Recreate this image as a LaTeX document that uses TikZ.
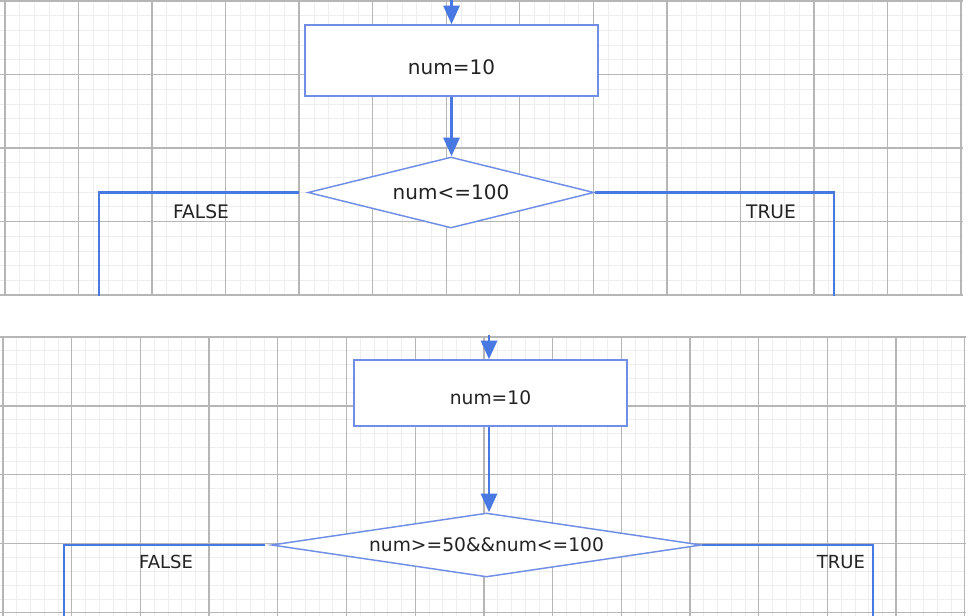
\documentclass[tikz,border=0pt]{standalone}
\usepackage{fontspec}
\setmainfont{DejaVu Sans}
\usetikzlibrary{shapes.geometric,arrows.meta,calc}
\definecolor{gridmajor}{RGB}{182,182,182}
\definecolor{gridminor}{RGB}{238,238,238}
\definecolor{flowblue}{RGB}{72,120,226}
\definecolor{shapeblue}{RGB}{112,142,230}
\definecolor{txtgray}{RGB}{35,35,35}
\tikzset{
  minorline/.style={gridminor, line width=0.5pt},
  majorline/.style={gridmajor, line width=1pt},
  procbox/.style={draw=shapeblue, fill=white, line width=1.1pt, rectangle, inner sep=0pt, text=txtgray},
  decbox/.style={draw=shapeblue, fill=white, line width=1.1pt, diamond, aspect=6, inner sep=0pt, text=txtgray},
  flowarrow/.style={flowblue, line width=2.2pt, -{Triangle[length=14pt,width=12pt]}},
  flowline/.style={flowblue, line width=1.9pt},
  lbl/.style={text=txtgray, inner sep=0pt},
}
\begin{document}
\begin{tikzpicture}[x=0.75pt,y=-0.75pt]
\useasboundingbox[fill=white] (0,0) rectangle (969,615);

% ---- top panel grid
\begin{scope}
\clip (0,0) rectangle (963,295.5);
\foreach \i in {-1,...,66} \draw[minorline] ({5+\i*14.708},0) -- ({5+\i*14.708},296);
\foreach \i in {0,...,21} \draw[minorline] (0,{1+\i*14.7}) -- (963,{1+\i*14.7});
\foreach \i in {0,...,13} \draw[majorline] ({5+\i*73.54},0) -- ({5+\i*73.54},296);
\foreach \i in {0,...,4} \draw[majorline] (0,{1+\i*73.5}) -- (963,{1+\i*73.5});
\end{scope}

% ---- bottom panel grid
\begin{scope}
\clip (0,336) rectangle (966,615);
\foreach \i in {-1,...,71} \draw[minorline] ({3+\i*13.74},336) -- ({3+\i*13.74},616);
\foreach \i in {0,...,21} \draw[minorline] (0,{337+\i*13.78}) -- (966,{337+\i*13.78});
\foreach \i in {0,...,14} \draw[majorline] ({3+\i*68.7},336) -- ({3+\i*68.7},616);
\foreach \i in {0,...,4} \draw[majorline] (0,{337+\i*68.9}) -- (966,{337+\i*68.9});
\end{scope}

% ---- top flowchart
\coordinate (a0) at (451.5,0);
\coordinate (fb1) at (99,295.5);
\coordinate (tb1) at (834,295.5);
\node[procbox, minimum width=219.75pt, minimum height=53.25pt, font=\fontsize{15}{18}\selectfont, text height=20.7pt, text depth=0pt] (r1) at (451.5,60.5) {num=10};
\node[decbox, minimum width=214.5pt, minimum height=53.25pt, font=\fontsize{15}{18}\selectfont] (d1) at (451,192.5) {num<=100};
\draw[flowarrow] (a0) -- (r1.north);
\draw[flowarrow] (r1.south) -- (r1.south |- d1.north);
\draw[flowline] ([xshift=-6pt]d1.west) -| (fb1);
\draw[flowline] (d1.east) -| (tb1);
\node[lbl, font=\fontsize{14}{17}\selectfont] (f1) at (201,212) {FALSE};
\node[lbl, font=\fontsize{14}{17}\selectfont] (t1) at (771,212) {TRUE};

% ---- bottom flowchart
\coordinate (a1) at (489,335);
\coordinate (fb2) at (64,615.5);
\coordinate (tb2) at (873,615.5);
\node[procbox, minimum width=204.75pt, minimum height=49.5pt, font=\fontsize{14}{17}\selectfont, text height=17.7pt, text depth=0pt] (r2) at (490.5,393) {num=10};
\node[decbox, minimum width=322.5pt, minimum height=48pt, font=\fontsize{14}{17}\selectfont] (d2) at (486.5,545) {num>=50\&\&num<=100};
\draw[flowarrow] (a1) -- (r2.north -| a1);
\draw[flowarrow] (r2.south -| a1) -- (a1 |- d2.north);
\draw[flowline] ([xshift=-4pt]d2.west) -| (fb2);
\draw[flowline] (d2.east) -| (tb2);
\node[lbl, font=\fontsize{13.5}{16}\selectfont] (f2) at (166,562) {FALSE};
\node[lbl, font=\fontsize{13.5}{16}\selectfont] (t2) at (841,562) {TRUE};
\end{tikzpicture}
\end{document}
